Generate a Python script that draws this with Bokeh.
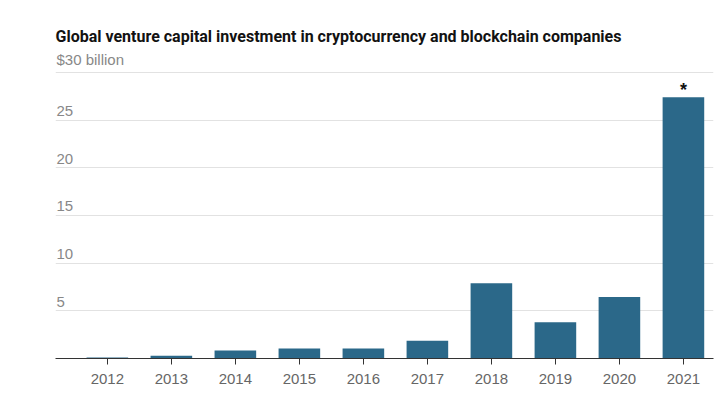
from bokeh.plotting import figure
from bokeh.models import Range1d, FixedTicker, ColumnDataSource
from bokeh.core.properties import value
from bokeh.embed import file_html
from bokeh.resources import INLINE

years = [2012, 2013, 2014, 2015, 2016, 2017, 2018, 2019, 2020, 2021]
investment = [0.1, 0.3, 0.85, 1.05, 1.05, 1.85, 7.9, 3.8, 6.45, 27.4]
y_ticks = [5, 10, 15, 20, 25, 30]
y_labels = ["5", "10", "15", "20", "25", "$30 billion"]
title = "Global venture capital investment in cryptocurrency and blockchain companies"
note_year = [2021]
note_value = [27.4]

x_start, x_end = 2011.19, 2021.47
p = figure(width=720, height=397, output_backend="svg", toolbar_location=None,
           x_range=Range1d(x_start, x_end), y_range=Range1d(0, 32.5),
           frame_width=658, frame_height=310,
           min_border_left=55, min_border_right=7, min_border_bottom=39, min_border_top=48)
p.title.text = title
p.title.text_font = "Roboto"
p.title.text_font_size = "16px"
p.title.text_font_style = "bold"
p.title.text_color = "#121212"
p.title.standoff = 5
p.outline_line_color = None
p.background_fill_color = "white"
p.border_fill_color = "white"

src = ColumnDataSource(dict(x=years, top=investment))
p.vbar(x="x", top="top", width=0.65, bottom=0, source=src, fill_color="#2b6889", line_color=None)

p.xgrid.visible = False
p.ygrid.ticker = FixedTicker(ticks=y_ticks)
p.ygrid.grid_line_color = "#e2e2e2"
p.yaxis.visible = False

ax = p.xaxis[0]
ax.ticker = FixedTicker(ticks=years)
ax.axis_line_color = "#333333"
ax.major_tick_line_color = "#333333"
ax.major_tick_out = 6
ax.major_tick_in = 0
ax.minor_tick_line_color = None
ax.major_label_text_font = "Liberation Sans"
ax.major_label_text_font_size = "15px"
ax.major_label_text_color = "#666666"
ax.major_label_standoff = 9

lab = ColumnDataSource(dict(x=[x_start] * len(y_ticks), y=y_ticks, t=y_labels))
p.text(x="x", y="y", text="t", source=lab, text_align="left", text_baseline="bottom",
       x_offset=1, y_offset=-4, text_font=value("Liberation Sans"), text_font_size="15px",
       text_color="#888888")

p.text(x=note_year, y=note_value, text=["*"], text_align="center", text_baseline="bottom",
       y_offset=3, text_font=value("Liberation Sans"), text_font_size="18px",
       text_font_style="bold", text_color="#121212")

open("out.html", "w").write(file_html(p, INLINE))
